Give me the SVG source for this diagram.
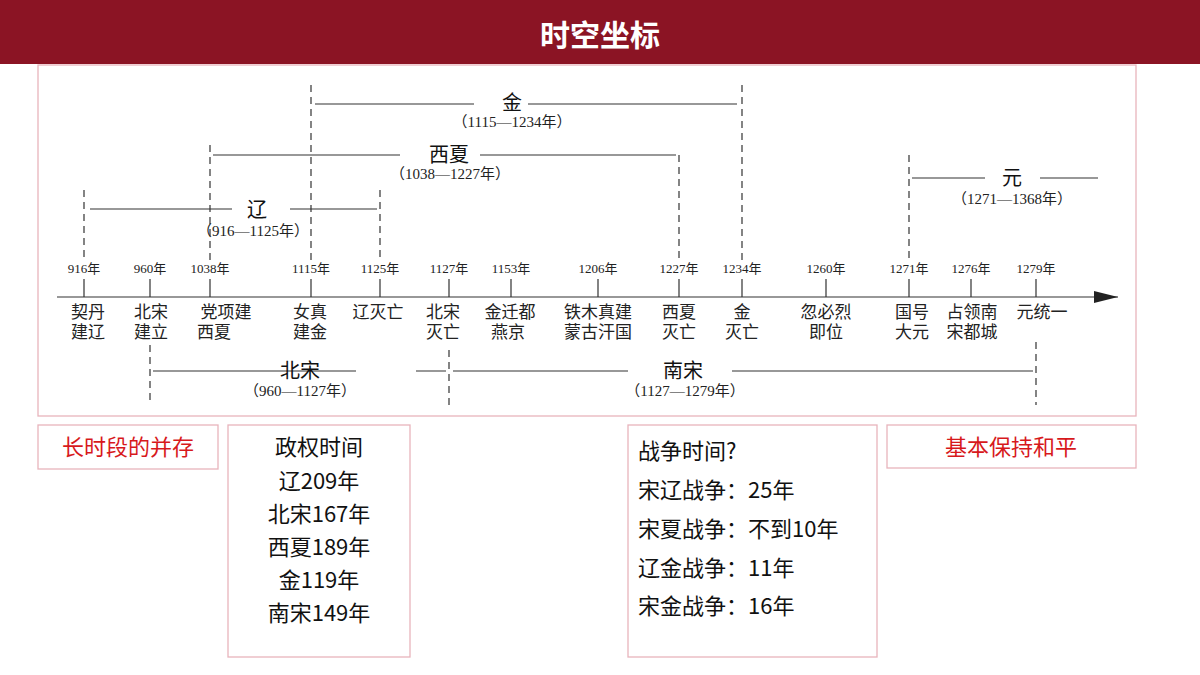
<svg xmlns="http://www.w3.org/2000/svg" width="1200" height="675" viewBox="0 0 1200 675">
<style>
.s{font-family:"Liberation Serif","Noto Sans CJK SC",serif;fill:#222}
.y{font-size:13px;text-anchor:middle}
.e{font-size:17px;text-anchor:middle}
.n{font-family:"Noto Sans CJK SC",sans-serif;font-size:20px;text-anchor:middle;fill:#111}
.p{font-size:15px;text-anchor:middle}
.l{stroke:#333;stroke-width:1.2}
.d{stroke:#333;stroke-width:1.2;stroke-dasharray:7 5}
.b{fill:#fff;stroke:#e8b4bc;stroke-width:1.3}
.t{font-family:"Noto Sans CJK SC",sans-serif;font-size:22px;fill:#111}
.r{font-family:"Noto Sans CJK SC",sans-serif;font-size:22px;fill:#d7191c;text-anchor:middle}
</style>
<defs><marker id="a" markerWidth="24" markerHeight="12" refX="24" refY="6" orient="auto" markerUnits="userSpaceOnUse"><path d="M0,0L24,6L0,12z" fill="#222"/></marker></defs>
<rect width="1200" height="675" fill="#fff"/>
<rect x="0" y="0" width="1200" height="64" fill="#8b1424"/>
<text x="600" y="46" text-anchor="middle" font-family="Noto Sans CJK SC,sans-serif" font-size="30" font-weight="bold" fill="#fff">时空坐标</text>
<rect x="38" y="65" width="1098" height="351" fill="none" stroke="#e8b4bc" stroke-width="1.3"/>
<g id="connectors">
<line class="l" x1="57" y1="297" x2="1118" y2="297" stroke-width="2" marker-end="url(#a)"/>
<path class="l" d="M84 279V297M150 279V297M210 279V297M311 279V297M380 279V297M449 279V297M511 279V297M598 279V297M679 279V297M742 279V297M826 279V297M909 279V297M971 279V297M1036 279V297"/>
<path class="d" d="M311 85V262M742 85V262M210 145V262M679 155V262M84 190V262M380 190V262M909 155V262M150 345V402M449 350V405M1036 342V405"/>
<path class="l" d="M315 104H474M528 104H737M213 155H400M480 155H676M90 209H232M290 209H377M912 178H985M1040 178H1098M153 371H356M416 371H446M453 371H628M732 371H1033"/>
</g>
<g id="labels" class="s">
<text class="y" x="84" y="273">916年</text><text class="y" x="150" y="273">960年</text><text class="y" x="210" y="273">1038年</text><text class="y" x="311" y="273">1115年</text><text class="y" x="380" y="273">1125年</text><text class="y" x="449" y="273">1127年</text><text class="y" x="511" y="273">1153年</text><text class="y" x="598" y="273">1206年</text><text class="y" x="679" y="273">1227年</text><text class="y" x="742" y="273">1234年</text><text class="y" x="826" y="273">1260年</text><text class="y" x="909" y="273">1271年</text><text class="y" x="971" y="273">1276年</text><text class="y" x="1036" y="273">1279年</text>
<text class="e" x="88" y="318">契丹</text><text class="e" x="88" y="338">建辽</text>
<text class="e" x="151" y="318">北宋</text><text class="e" x="151" y="338">建立</text>
<text class="e" x="226" y="318">党项建</text><text class="e" x="214" y="338">西夏</text>
<text class="e" x="310" y="318">女真</text><text class="e" x="310" y="338">建金</text>
<text class="e" x="378" y="318">辽灭亡</text>
<text class="e" x="443" y="318">北宋</text><text class="e" x="443" y="338">灭亡</text>
<text class="e" x="510" y="318">金迁都</text><text class="e" x="508" y="338">燕京</text>
<text class="e" x="598" y="318">铁木真建</text><text class="e" x="598" y="338">蒙古汗国</text>
<text class="e" x="679" y="318">西夏</text><text class="e" x="679" y="338">灭亡</text>
<text class="e" x="742" y="318">金</text><text class="e" x="742" y="338">灭亡</text>
<text class="e" x="826" y="318">忽必烈</text><text class="e" x="826" y="338">即位</text>
<text class="e" x="912" y="318">国号</text><text class="e" x="912" y="338">大元</text>
<text class="e" x="972" y="318">占领南</text><text class="e" x="972" y="338">宋都城</text>
<text class="e" x="1042" y="318">元统一</text>
</g>
<g id="n-jin"><text class="n" x="512" y="110">金</text><text class="s p" x="512" y="127">（1115—1234年）</text></g>
<g id="n-xixia"><text class="n" x="449" y="162">西夏</text><text class="s p" x="450" y="179">（1038—1227年）</text></g>
<g id="n-liao"><text class="n" x="257" y="217">辽</text><text class="s p" x="253" y="236">（916—1125年）</text></g>
<g id="n-yuan"><text class="n" x="1012" y="185">元</text><text class="s p" x="1012" y="204">（1271—1368年）</text></g>
<g id="n-beisong"><text class="n" x="300" y="378">北宋</text><text class="s p" x="300" y="396">（960—1127年）</text></g>
<g id="n-nansong"><text class="n" x="683" y="378">南宋</text><text class="s p" x="685" y="396">（1127—1279年）</text></g>
<g id="b1"><rect class="b" x="38" y="425" width="180" height="44"/><text class="r" x="128" y="455">长时段的并存</text></g>
<g id="b2"><rect class="b" x="228" y="425" width="182" height="232"/>
<g class="t" text-anchor="middle"><text x="319" y="455">政权时间</text><text x="319" y="489">辽209年</text><text x="319" y="522">北宋167年</text><text x="319" y="555">西夏189年</text><text x="319" y="588">金119年</text><text x="319" y="621">南宋149年</text></g></g>
<g id="b3"><rect class="b" x="628" y="425" width="249" height="232"/>
<g class="t"><text x="638" y="459">战争时间?</text><text x="638" y="498">宋辽战争：25年</text><text x="638" y="537">宋夏战争：不到10年</text><text x="638" y="576">辽金战争：11年</text><text x="638" y="614">宋金战争：16年</text></g></g>
<g id="b4"><rect class="b" x="887" y="425" width="249" height="43"/><text class="r" x="1011" y="455">基本保持和平</text></g>
</svg>
